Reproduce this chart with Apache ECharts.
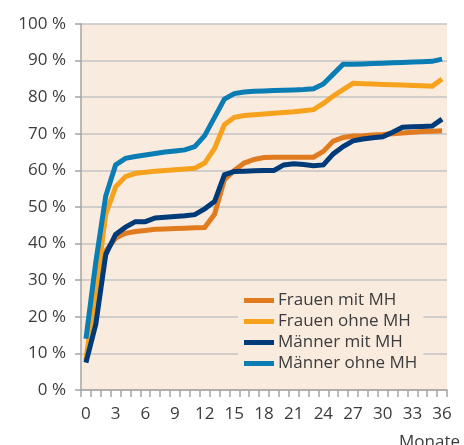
<!DOCTYPE html>
<html>
<head>
<meta charset="utf-8">
<script src="https://cdn.jsdelivr.net/npm/echarts@6/dist/echarts.min.js"></script>
<style>
  html, body { margin: 0; padding: 0; background: #fff; }
  #chart { width: 464px; height: 445px; }
</style>
</head>
<body>
<div id="chart"></div>
<script>
// months since start (0..36)
var months = [];
for (var m = 0; m <= 36; m++) months.push(String(m));

var seriesNames = ["Frauen mit MH", "Frauen ohne MH", "Männer mit MH", "Männer ohne MH"];
var seriesColors = ["#e07b1f", "#f7a21d", "#003b79", "#0a7db4"];

// cumulative share in percent
var frauenMitMH = [8, 22, 38, 41.5, 42.8, 43.3, 43.6, 43.9, 44, 44.1, 44.2, 44.3, 44.4, 48, 57.5, 60, 62, 63, 63.5, 63.6, 63.6, 63.6, 63.6, 63.6, 65.2, 68, 69, 69.4, 69.5, 69.7, 69.8, 70, 70.2, 70.4, 70.6, 70.7, 70.8];
var frauenOhneMH = [8.5, 27, 48, 55.5, 58.3, 59.2, 59.5, 59.8, 60, 60.2, 60.4, 60.6, 62, 66, 72.5, 74.5, 75, 75.2, 75.4, 75.6, 75.8, 76, 76.3, 76.6, 78.3, 80.3, 82.1, 83.8, 83.7, 83.6, 83.5, 83.4, 83.3, 83.2, 83.1, 83, 85];
var maennerMitMH = [7.5, 18, 37, 42.5, 44.5, 46, 46, 47, 47.2, 47.4, 47.6, 47.9, 49.5, 51.5, 58.8, 59.7, 59.8, 59.9, 60, 60, 61.5, 61.8, 61.6, 61.3, 61.5, 64.5, 66.5, 68.1, 68.6, 68.9, 69.2, 70.4, 71.8, 71.9, 72, 72.1, 74];
var maennerOhneMH = [14, 35, 53, 61.5, 63.3, 63.8, 64.2, 64.6, 65, 65.3, 65.6, 66.5, 69.5, 74.5, 79.5, 81, 81.4, 81.6, 81.7, 81.8, 81.9, 82, 82.1, 82.3, 83.6, 86.3, 89, 89, 89.1, 89.2, 89.3, 89.4, 89.5, 89.6, 89.7, 89.8, 90.4];

var seriesData = [frauenMitMH, frauenOhneMH, maennerMitMH, maennerOhneMH];

var font = "'Open Sans', 'Noto Sans', sans-serif";
var textColor = "#3c3c3c";

var chart = echarts.init(document.getElementById("chart"), null, { renderer: "canvas" });

var series = seriesNames.map(function (name, i) {
    return {
        name: name,
        type: "line",
        data: seriesData[i],
        symbol: "none",
        smooth: false,
        lineStyle: { width: 5, color: seriesColors[i], cap: "butt", join: "miter" },
        itemStyle: { color: seriesColors[i] },
        emphasis: { disabled: true },
        z: 3 + i
    };
});

chart.setOption({
    animation: false,
    textStyle: { fontFamily: font },
    grid: {
        left: 81,
        right: 17,
        top: 24,
        bottom: 55,
        show: true,
        backgroundColor: "#faebdf",
        borderWidth: 0
    },
    legend: {
        orient: "vertical",
        left: 238,
        top: 288,
        data: seriesNames,
        icon: "rect",
        itemWidth: 30,
        itemHeight: 5,
        itemGap: 4,
        padding: [4, 6, 4, 6],
        backgroundColor: "#faebdf",
        textStyle: { fontFamily: font, fontSize: 17, color: textColor, lineHeight: 17, padding: [0, 0, 0, -1] }
    },
    xAxis: {
        type: "category",
        data: months,
        boundaryGap: true,
        axisLine: { show: true, lineStyle: { color: "#a5a5a5", width: 1.5 } },
        axisTick: { show: true, interval: 0, length: 7, lineStyle: { color: "#a5a5a5", width: 1.5 } },
        axisLabel: {
            interval: 2,
            margin: 16,
            fontFamily: font,
            fontSize: 17,
            color: textColor
        },
        splitLine: { show: false }
    },
    yAxis: {
        type: "value",
        min: 0,
        max: 100,
        interval: 10,
        axisLine: { show: true, lineStyle: { color: "#a5a5a5", width: 1.5 } },
        axisTick: { show: true, length: 6, lineStyle: { color: "#a5a5a5", width: 1.5 } },
        axisLabel: {
            margin: 15,
            fontFamily: font,
            fontSize: 17,
            color: textColor,
            formatter: "{value} %"
        },
        splitLine: { show: true, lineStyle: { color: "#c3c3c3", width: 1.5 } }
    },
    graphic: [{
        type: "text",
        right: 4,
        top: 434,
        style: { text: "Monate", font: "17px " + font, fill: textColor }
    }],
    series: series
});
</script>
</body>
</html>
